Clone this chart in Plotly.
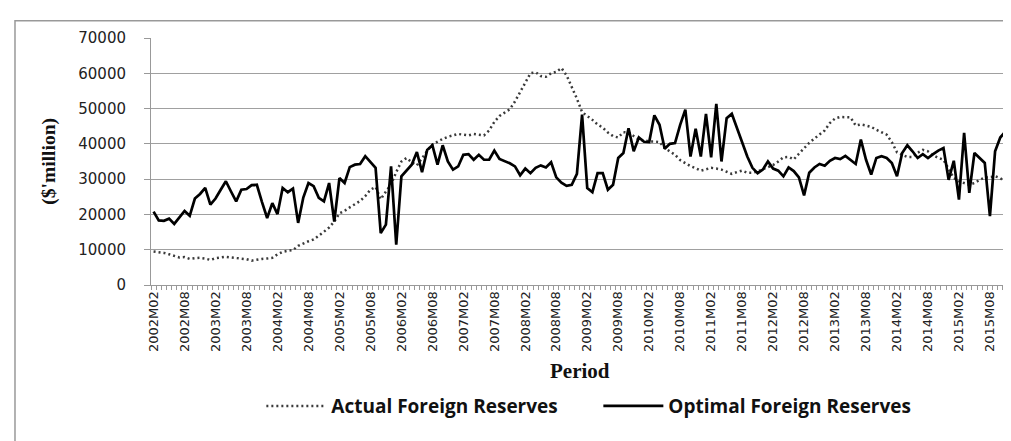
import plotly.graph_objects as go

# Monthly periods 2002M02 .. 2015M11
periods = [f"{2002 + m // 12}M{m % 12 + 1:02d}" for m in range(1, 167)]
tick_labels = [p if i % 6 == 0 else "" for i, p in enumerate(periods)]

actual_reserves = [
    9500, 9400, 9100, 8700, 8300, 7800, 7900, 7400, 7600, 7700,
    7500, 7100, 7600, 7900, 8000, 7800, 7700, 7500, 7300, 6900,
    7200, 7400, 7500, 7700, 8700, 9400, 9700, 9900, 11100, 11800,
    12400, 12900, 13900, 15100, 16300, 18000, 20300, 21000, 22000, 22800,
    23800, 25200, 27000, 27800, 24300, 26500, 28500, 32000, 35000, 36000,
    34800, 33900, 36000, 38000, 39800, 40700, 41400, 42000, 42400, 42800,
    42600, 42400, 42800, 42700, 42400, 43800, 46200, 47900, 48800, 49800,
    52000, 54600, 57500, 60000, 60300, 59200, 59000, 60000, 60400, 61500,
    59400, 56200, 52800, 49000, 48000, 46800, 45500, 44600, 43200, 42200,
    41800, 43300, 43200, 42200, 41200, 41000, 40700, 40700, 40500, 38800,
    37800, 36900, 35400, 34500, 33700, 33100, 32400, 32800, 33200, 33000,
    32700, 32100, 31500, 32000, 32400, 31800, 31800, 32200, 32800, 33300,
    34000, 35000, 36200, 36300, 35600, 37200, 38800, 40300, 41500, 42700,
    43800, 45900, 47200, 47600, 47500, 47500, 45200, 45500, 45200, 44800,
    44000, 43400, 42600, 40500, 37600, 36900, 36300, 36300, 37500, 38300,
    37900, 36800, 36000, 35500, 33000, 30300, 29400, 28800, 28400, 28900,
    29800, 30400, 30600, 30800, 30300, 29200,
]

optimal_reserves = [
    20800, 18300, 18200, 18800, 17300, 19300, 21000, 19600, 24500, 25800,
    27500, 22800, 24500, 27000, 29400, 26500, 23700, 27000, 27200, 28300,
    28400, 23500, 19000, 23200, 20100, 27500, 26300, 27300, 17600, 24800,
    28900, 28000, 24700, 23700, 28900, 18000, 30300, 28900, 33400, 34100,
    34300, 36500, 35000, 33200, 14700, 17100, 33600, 11400, 30800, 32400,
    34100, 37700, 32000, 38300, 39600, 34100, 39600, 35000, 32700, 33600,
    36900, 37100, 35500, 36900, 35500, 35500, 38100, 35700, 35200, 34500,
    33600, 31100, 33000, 31700, 33200, 33900, 33300, 34800, 30500, 29000,
    28100, 28400, 31500, 48300, 27500, 26300, 31700, 31700, 27000, 28400,
    36000, 37400, 44400, 37900, 41800, 40600, 40500, 48100, 45400, 38600,
    40000, 40200, 45400, 49700, 36400, 44300, 36400, 48500, 36200, 51300,
    35000, 47300, 48500, 44500, 40000, 36400, 33200, 31700, 32700, 35000,
    33000, 32400, 30800, 33300, 32300, 30500, 25400, 31800, 33300, 34300,
    33800, 35200, 36000, 35700, 36600, 35500, 34300, 41200, 35500, 31300,
    36000, 36500, 36000, 34600, 30800, 37400, 39600, 37900, 36000, 37100,
    36000, 37100, 38100, 38800, 29800, 35200, 24200, 43100, 26100, 37400,
    36000, 34600, 19500, 37900, 41800, 43500,
]

series_names = ["Actual Foreign Reserves", "Optimal Foreign Reserves"]
y_ticks = [0, 10000, 20000, 30000, 40000, 50000, 60000, 70000]
y_tick_labels = [str(v) for v in y_ticks]

fig = go.Figure()
fig.add_trace(go.Scatter(
    x=periods, y=actual_reserves, mode="lines", name=series_names[0],
    line=dict(color="#3a3a3a", width=2.5, dash="2px,3px"),
))
fig.add_trace(go.Scatter(
    x=periods, y=optimal_reserves, mode="lines", name=series_names[1],
    line=dict(color="#000000", width=2.7),
))

fig.update_layout(
    width=1011, height=441,
    margin=dict(l=143, r=11, t=30, b=164),
    paper_bgcolor="white", plot_bgcolor="white",
    showlegend=True,
    legend=dict(
        orientation="h", x=0.522, xanchor="center", y=-0.49, yanchor="middle",
        font=dict(family="Open Sans", size=19, color="#111", weight="bold"),
        bgcolor="rgba(0,0,0,0)", itemwidth=60, entrywidth=262, entrywidthmode="pixels",
    ),
    xaxis=dict(
        type="category", tickmode="array", tickvals=periods, ticktext=tick_labels,
        tickson="boundaries", ticks="outside", ticklen=4, tickcolor="#999",
        tickangle=-90, showgrid=False, showline=True, linecolor="#999",
        linewidth=1, tickfont=dict(family="DejaVu Sans", size=13, color="#222"),
        range=[-0.5, len(periods) - 0.5],
    ),
    yaxis=dict(
        range=[0, 70000], tickmode="array", tickvals=y_ticks, ticktext=y_tick_labels,
        ticks="outside", ticklen=6,
        tickcolor="#999", showgrid=True, gridcolor="#a0a0a0", gridwidth=1,
        showline=True, linecolor="#999", linewidth=1, zeroline=False,
        tickfont=dict(family="DejaVu Sans", size=15, color="#222"),
        ticklabelstandoff=15,
    ),
    annotations=[
        dict(text="($'million)", xref="paper", yref="paper", x=-0.12, y=0.5,
             textangle=-90, showarrow=False, xanchor="center", yanchor="middle",
             font=dict(family="Liberation Serif", size=19.5, color="#111", weight="bold")),
        dict(text="Period", xref="paper", yref="paper", x=0.5, y=-0.35,
             showarrow=False, xanchor="center", yanchor="middle",
             font=dict(family="Liberation Serif", size=21, color="#111", weight="bold")),
    ],
    shapes=[
        dict(type="rect", xref="paper", yref="paper", x0=-0.1587, y0=-0.75,
             x1=1.05, y1=1.070, line=dict(color="#999", width=1.5), layer="below"),
    ],
)

fig.write_html("out.html")
